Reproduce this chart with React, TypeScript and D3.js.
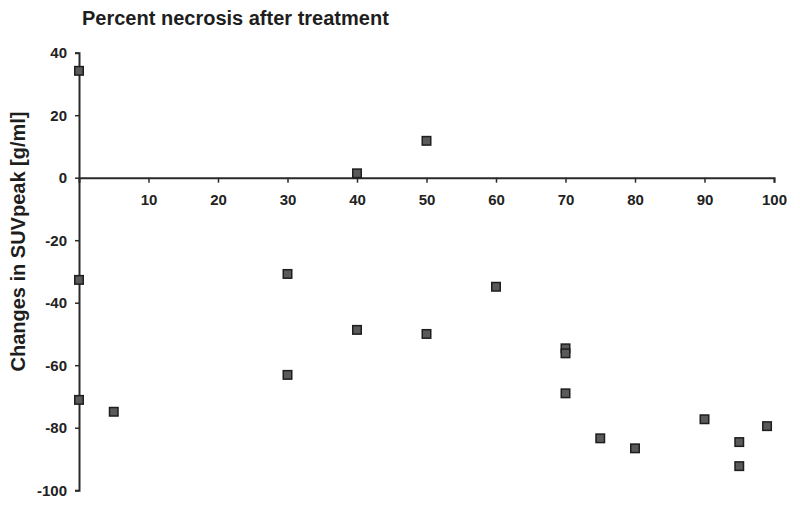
import React, { useEffect, useRef } from "react";
import * as d3 from "d3";

const xValues = [0, 0, 0, 5, 30, 30, 40, 40, 50, 50, 60, 70, 70, 70, 75, 80, 90, 95, 95, 99];
const yValues = [34.2, -32.7, -71.1, -74.9, -30.8, -63.1, 1.4, -48.7, 11.8, -50.0, -34.9, -54.6, -56.2, -69.0, -83.4, -86.6, -77.3, -84.6, -92.3, -79.5];
const xTicks = [10, 20, 30, 40, 50, 60, 70, 80, 90, 100];
const yTicks = [40, 20, 0, -20, -40, -60, -80, -100];
const titleText = "Percent necrosis after treatment";
const yLabelText = "Changes in SUVpeak [g/ml]";

const W = 800;
const H = 509;

export default function App() {
  const ref = useRef<SVGSVGElement>(null);

  useEffect(() => {
    const svg = d3.select(ref.current);
    svg.selectAll("*").remove();

    const x = d3.scaleLinear().domain([0, 100]).range([79, 774]);
    const y = d3.scaleLinear().domain([-100, 40]).range([490.2, 52.7]);
    const font = "'Liberation Sans', Arial, sans-serif";
    const axisColor = "#2a2a2a";
    const fmt = (d: d3.NumberValue) => String(d);

    // Title
    svg.append("text")
      .attr("x", 82)
      .attr("y", 24.5)
      .attr("font-family", font)
      .attr("font-weight", "bold")
      .attr("font-size", 20)
      .attr("fill", "#1e1e1e")
      .text(titleText);

    // Y label
    svg.append("text")
      .attr("transform", `translate(25, 241.5) rotate(-90)`)
      .attr("text-anchor", "middle")
      .attr("font-family", font)
      .attr("font-weight", "bold")
      .attr("font-size", 20)
      .attr("fill", "#1e1e1e")
      .text(yLabelText);

    // Y axis
    const yAxis = d3.axisLeft(y).tickValues(yTicks).tickSize(4).tickFormat(fmt);
    const gy = svg.append("g").attr("transform", `translate(${x(0)},0)`).call(yAxis);
    gy.select(".domain").attr("stroke", axisColor).attr("stroke-width", 2);
    gy.selectAll(".tick line").attr("stroke", axisColor).attr("stroke-width", 1.5);
    gy.selectAll(".tick text")
      .attr("font-family", font)
      .attr("font-weight", "bold")
      .attr("font-size", 15)
      .attr("fill", "#222")
      .attr("x", -12);

    // X axis at y=0
    const xAxis = d3.axisBottom(x).tickValues(xTicks).tickSize(5).tickFormat(fmt);
    const gx = svg.append("g").attr("transform", `translate(0,${y(0)})`).call(xAxis);
    gx.select(".domain").attr("stroke", axisColor).attr("stroke-width", 2);
    gx.selectAll(".tick line").attr("stroke", axisColor).attr("stroke-width", 1.5);
    gx.selectAll(".tick text")
      .attr("font-family", font)
      .attr("font-weight", "bold")
      .attr("font-size", 15)
      .attr("fill", "#222")
      .attr("y", 17);

    // Points
    const data = xValues.map((v, i) => ({ x: v, y: yValues[i] }));
    const s = 8.5;
    svg.append("g")
      .selectAll("rect")
      .data(data)
      .join("rect")
      .attr("x", (d) => x(d.x) - s / 2)
      .attr("y", (d) => y(d.y) - s / 2)
      .attr("width", s)
      .attr("height", s)
      .attr("fill", "#5a5a5a")
      .attr("stroke", "#1e1e1e")
      .attr("stroke-width", 1.5);
  }, []);

  return (
    <svg
      ref={ref}
      width={W}
      height={H}
      style={{ position: "absolute", left: 0, top: 0, background: "#fff" }}
    />
  );
}
